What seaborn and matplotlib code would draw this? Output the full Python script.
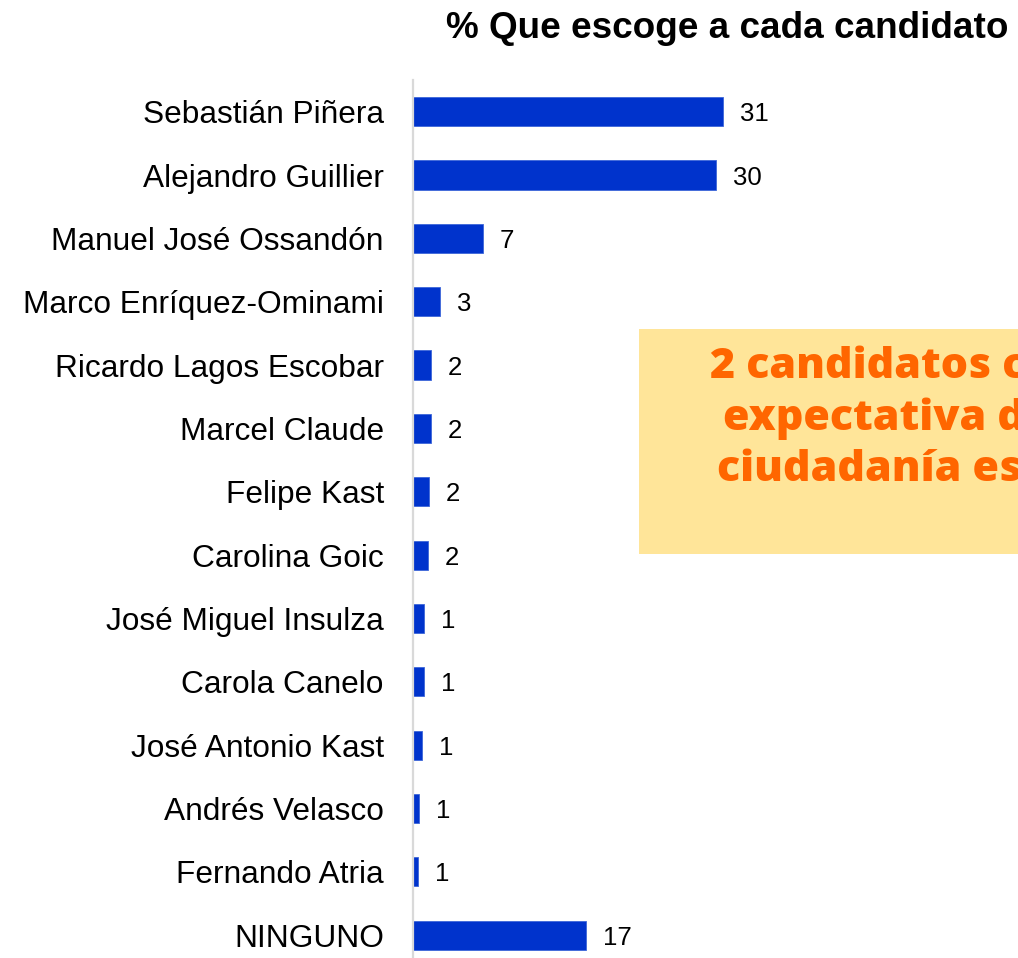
import matplotlib
matplotlib.use("Agg")
import matplotlib.pyplot as plt
import seaborn as sns
import pandas as pd
from matplotlib.patches import Rectangle

candidates = ["Sebastián Piñera", "Alejandro Guillier", "Manuel José Ossandón",
              "Marco Enríquez-Ominami", "Ricardo Lagos Escobar", "Marcel Claude",
              "Felipe Kast", "Carolina Goic", "José Miguel Insulza", "Carola Canelo",
              "José Antonio Kast", "Andrés Velasco", "Fernando Atria", "NINGUNO"]
values = [31.0, 30.3, 7.0, 2.7, 1.8, 1.8, 1.6, 1.5, 1.1, 1.1, 0.9, 0.6, 0.5, 17.3]
value_labels = ["31", "30", "7", "3", "2", "2", "2", "2", "1", "1", "1", "1", "1", "17"]
title = "% Que escoge a cada candidato"
note_lines = ["2 candidatos concentran la", "expectativa de lo que la", "ciudadanía espera"]

sns.set_theme(style="white")
plt.rcParams['font.family'] = ['Liberation Sans', 'DejaVu Sans']

df = pd.DataFrame({"candidato": candidates, "pct": values})

fig = plt.figure(figsize=(10.18, 9.58), dpi=100)
ax = fig.add_axes([413 / 1018, 0.0, 1 - 413 / 1018, 1 - 80 / 958])

sns.barplot(data=df, x="pct", y="candidato", orient="h", color="#0033CC",
            saturation=1, width=0.46, ax=ax, edgecolor="#3D66D9", linewidth=0.6)

ax.set_xlim(0, 60.5)
ax.set_ylim(13.36, -0.5)
ax.set_xlabel("")
ax.set_ylabel("")
ax.set_xticks([])
ax.tick_params(axis="y", length=0, pad=21, labelsize=22.8, labelcolor="black")
for s in ["top", "right", "bottom"]:
    ax.spines[s].set_visible(False)
ax.spines["left"].set_color("#D9D9D9")
ax.spines["left"].set_linewidth(1.6)
ax.patch.set_alpha(0)

texts = ax.bar_label(ax.containers[0], labels=value_labels, padding=12,
                     fontsize=18.5, color="black")
for t in texts:
    t.set_verticalalignment("center_baseline")

fig.text(727 / 1018, 1 - 28 / 958, title, ha="center", va="center",
         fontsize=26.6, fontweight="bold", color="black")

# annotation box
box = Rectangle((639 / 1018, 1 - 554 / 958), 0.5, (554 - 329) / 958,
                transform=fig.transFigure, facecolor="#FFE599", edgecolor="none", zorder=0)
fig.patches.append(box)
note_x = [710, 723, 717]
note_y = [367, 419, 470]
for line, x, y in zip(note_lines, note_x, note_y):
    t = fig.text(x / 1018, 1 - y / 958, line, ha="left", va="center", fontsize=31,
                 fontweight="heavy", color="#FF6600", family=["Open Sans", "DejaVu Sans"])
    t.set_clip_path(box)
    t.set_clip_on(True)

fig.savefig("out.png", dpi=100)
